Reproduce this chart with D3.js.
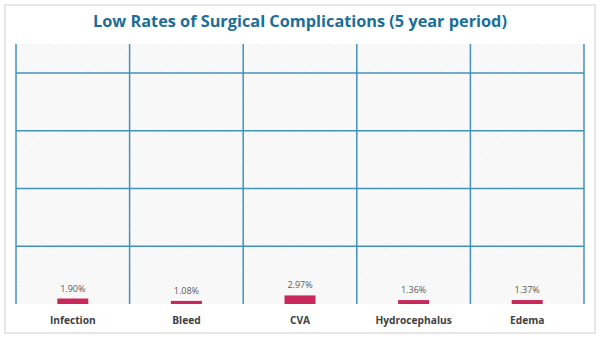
<!DOCTYPE html>
<html>
<head>
<meta charset="utf-8">
<script src="https://cdn.jsdelivr.net/npm/d3@7"></script>
<style>
  body { margin: 0; background: #fff; }
  svg { display: block; }
</style>
</head>
<body>
<svg id="chart"></svg>
<script>
const width = 600;
const height = 338;

const categories = ["Infection", "Bleed", "CVA", "Hydrocephalus", "Edema"];
const rates = [0.0190, 0.0108, 0.0297, 0.0136, 0.0137];
const yTicks = [0.2, 0.4, 0.6, 0.8];
const yMax = 0.9;

const plot = {left: 16, right: 584, top: 44, bottom: 304};

const svg = d3.select("#chart")
    .attr("width", width)
    .attr("height", height);

// hatch pattern for the plot area
const defs = svg.append("defs");
const pat = defs.append("pattern")
    .attr("id", "hatch")
    .attr("patternUnits", "userSpaceOnUse")
    .attr("width", 3)
    .attr("height", 3)
    .attr("patternTransform", "rotate(45)");
pat.append("rect").attr("width", 3).attr("height", 3).attr("fill", "#fbfbfb");
pat.append("line")
    .attr("x1", 0).attr("y1", 0).attr("x2", 0).attr("y2", 3)
    .attr("stroke", "#ebebeb").attr("stroke-width", 1);

// chart frame
svg.append("rect")
    .attr("x", 5).attr("y", 5)
    .attr("width", 590).attr("height", 328)
    .attr("fill", "#fff")
    .attr("stroke", "#e6e6e6")
    .attr("stroke-width", 2);

const x = d3.scaleBand()
    .domain(categories)
    .range([plot.left, plot.right])
    .paddingInner(0)
    .paddingOuter(0);

const y = d3.scaleLinear()
    .domain([0, yMax])
    .range([plot.bottom, plot.top]);

svg.append("rect")
    .attr("x", plot.left).attr("y", plot.top)
    .attr("width", plot.right - plot.left)
    .attr("height", plot.bottom - plot.top)
    .attr("fill", "url(#hatch)");

// grid lines
const gridColor = "#4392b9";
svg.append("g")
    .selectAll("line")
    .data(yTicks)
    .join("line")
    .attr("x1", plot.left).attr("x2", plot.right)
    .attr("y1", d => y(d)).attr("y2", d => y(d))
    .attr("stroke", gridColor)
    .attr("stroke-width", 1.5);

const vlines = categories.map(c => x(c)).concat([plot.right]);
svg.append("g")
    .selectAll("line")
    .data(vlines)
    .join("line")
    .attr("x1", d => d).attr("x2", d => d)
    .attr("y1", plot.top).attr("y2", plot.bottom)
    .attr("stroke", gridColor)
    .attr("stroke-width", 1.5);

// bars
const barW = 31;
svg.append("g")
    .selectAll("rect")
    .data(rates)
    .join("rect")
    .attr("x", (d, i) => x(categories[i]) + x.bandwidth() / 2 - barW / 2)
    .attr("y", d => y(d))
    .attr("width", barW)
    .attr("height", d => y(0) - y(d))
    .attr("fill", "#c8285a");

// value labels
svg.append("g")
    .selectAll("text")
    .data(rates)
    .join("text")
    .attr("x", (d, i) => x(categories[i]) + x.bandwidth() / 2)
    .attr("y", d => y(d) - 7)
    .attr("text-anchor", "middle")
    .attr("font-family", "'Open Sans', sans-serif")
    .attr("font-size", 9)
    .attr("fill", "#595959")
    .text(d => d3.format(".2%")(d));

// category labels
svg.append("g")
    .selectAll("text")
    .data(categories)
    .join("text")
    .attr("x", d => x(d) + x.bandwidth() / 2)
    .attr("y", 324)
    .attr("text-anchor", "middle")
    .attr("font-family", "'Open Sans', sans-serif")
    .attr("font-weight", 700)
    .attr("font-size", 10.2)
    .attr("fill", "#404040")
    .text(d => d);

// title
svg.append("text")
    .attr("x", 300)
    .attr("y", 27)
    .attr("text-anchor", "middle")
    .attr("font-family", "'Open Sans', sans-serif")
    .attr("font-weight", 700)
    .attr("font-size", 16.3)
    .attr("fill", "#1b6e98")
    .text("Low Rates of Surgical Complications (5 year period)");
</script>
</body>
</html>
